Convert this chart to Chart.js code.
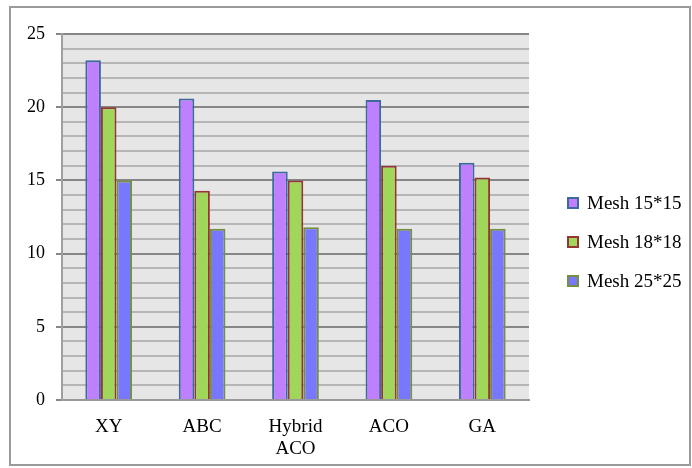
<!DOCTYPE html>
<html>
<head>
<meta charset="utf-8">
<title>Mesh chart</title>
<script src="https://cdn.jsdelivr.net/npm/chart.js@4.4.1/dist/chart.umd.min.js"></script>
<style>
  body{margin:0;background:#fff;}
  canvas{display:block;}
</style>
</head>
<body>
<canvas id="myChart" width="692" height="468"></canvas>
<script>
'use strict';
let categories=['XY','ABC',['Hybrid','ACO'],'ACO','GA'];
let seriesNames=['Mesh 15*15','Mesh 18*18','Mesh 25*25'];
let mesh15=[23.2,20.6,15.6,20.5,16.2];
let mesh18=[20,14.3,15,16,15.2];
let mesh25=[15,11.7,11.8,11.7,11.7];
let yTicks=[0,5,10,15,20,25];

let fillColors=['#bf80ff','#a0d65a','#7878ff'];
let edgeColors=['#3c6a9c','#963634','#74903f'];
let serif='"Liberation Serif", "Times New Roman", serif';

// grey plot area + outer frame
let backdrop={
    id:'backdrop',
    beforeDraw(chart){
        let ctx=chart.ctx;
        let a=chart.chartArea;
        ctx.save();
        ctx.fillStyle='#fff';
        ctx.fillRect(0,0,chart.width,chart.height);
        ctx.fillStyle='#e6e6e6';
        ctx.fillRect(a.left,a.top,a.right-a.left,a.bottom-a.top);
        ctx.strokeStyle='#9a9a9a';
        ctx.lineWidth=2;
        ctx.strokeRect(10,7,680,458);
        ctx.restore();
    }
}

// legend on the right, drawn by hand so it can sit away from the plot
let sideLegend={
    id:'sideLegend',
    afterDraw(chart){
        let ctx=chart.ctx;
        let a=chart.chartArea;
        ctx.save();
        ctx.font='19px '+serif;
        ctx.textBaseline='middle';
        chart.data.datasets.forEach(function(ds,i){
            let y=a.top+169+i*39;
            let x=a.right+39;
            ctx.fillStyle=ds.backgroundColor;
            ctx.fillRect(x,y-5,10,10);
            ctx.strokeStyle=ds.borderColor;
            ctx.lineWidth=2;
            ctx.strokeRect(x,y-5,10,10);
            ctx.fillStyle='#000';
            ctx.fillText(ds.label,x+19,y+1);
        });
        ctx.restore();
    }
}

let ctx=document.getElementById('myChart').getContext('2d');
let chart=new Chart(ctx,{
    type:'bar',
    data:{
        labels:categories,
        datasets:[mesh15,mesh18,mesh25].map(function(vals,i){
            return {
                label:seriesNames[i],
                data:vals,
                backgroundColor:fillColors[i],
                borderColor:edgeColors[i],
                borderWidth:2,
                categoryPercentage:0.5,
                barPercentage:1.0
            }
        })
    },
    options:{
        responsive:false,
        animation:false,
        layout:{padding:{top:34,right:163,left:0,bottom:0}},
        plugins:{
            legend:{display:false},
            tooltip:{enabled:false}
        },
        scales:{
            x:{
                grid:{display:false,drawTicks:false},
                border:{display:true,color:'#999',width:2},
                ticks:{
                    color:'#000',
                    padding:16,
                    maxRotation:0,
                    font:{family:serif,size:19,lineHeight:1.15}
                },
                afterFit(scale){scale.height=68}
            },
            y:{
                min:0,
                max:25,
                grid:{
                    color(c){return c.tick.value%5===0?'#868686':'#b6b6b6'},
                    tickColor(c){return c.tick.value%5===0?'#868686':'rgba(0,0,0,0)'},
                    lineWidth:2,
                    tickLength:6
                },
                border:{display:true,color:'#a0a0a0',width:2},
                ticks:{
                    stepSize:1,
                    autoSkip:false,
                    color:'#000',
                    padding:11,
                    font:{family:serif,size:18},
                    callback(v){return yTicks.includes(v)?String(v):''}
                },
                afterFit(scale){scale.width=62}
            }
        }
    },
    plugins:[backdrop,sideLegend]
});
</script>
</body>
</html>
